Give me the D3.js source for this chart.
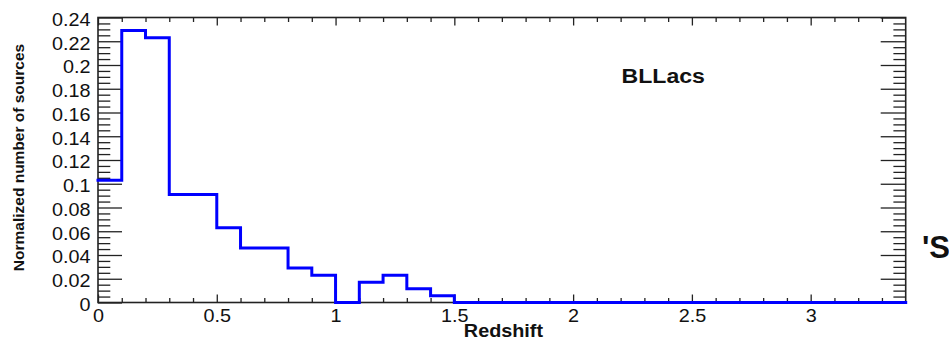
<!DOCTYPE html>
<html>
<head>
<meta charset="utf-8">
<script src="https://cdn.jsdelivr.net/npm/d3@7/dist/d3.min.js"></script>
<style>
  html, body { margin: 0; padding: 0; background: #fff; }
  svg { display: block; }
  text { font-family: "Liberation Sans", Arial, Helvetica, sans-serif; fill: #111; }
</style>
</head>
<body>
<svg id="chart" width="949" height="340"></svg>
<script>
// Redshift distribution of BL Lac sources (normalized histogram, bin width 0.1)
const binLowEdges = [0, 0.1, 0.2, 0.3, 0.4, 0.5, 0.6, 0.7, 0.8, 0.9, 1.0, 1.1, 1.2, 1.3, 1.4];
const binUpperLimit = 1.5;
const fractions = [0.103, 0.229, 0.223, 0.091, 0.091, 0.063, 0.046, 0.046, 0.029, 0.023, 0, 0.017, 0.023, 0.0115, 0.0057];
const xTickValues = [0, 0.5, 1, 1.5, 2, 2.5, 3];
const xTickLabels = ["0", "0.5", "1", "1.5", "2", "2.5", "3"];
const yTickValues = [0, 0.02, 0.04, 0.06, 0.08, 0.1, 0.12, 0.14, 0.16, 0.18, 0.2, 0.22, 0.24];
const yTickLabels = ["0", "0.02", "0.04", "0.06", "0.08", "0.1", "0.12", "0.14", "0.16", "0.18", "0.2", "0.22", "0.24"];
const xDomain = [0, 3.4];
const yDomain = [0, 0.24];
const seriesLabel = "BLLacs";
const xTitle = "Redshift";
const yTitle = "Normalized number of sources";

const svg = d3.select("#chart");
const frame = { left: 98, right: 905.7, top: 17.5, bottom: 302.5 };

const x = d3.scaleLinear().domain(xDomain).range([frame.left, frame.right]);
const y = d3.scaleLinear().domain(yDomain).range([frame.bottom, frame.top]);

const axisColor = "#222";
const stretch = "scale(1.1,1)";

// minor tick positions
const xMinor = d3.range(0, 34).map(i => i / 10).filter(v => !xTickValues.some(t => Math.abs(t - v) < 1e-9));
const yMinor = d3.range(0, 49).map(i => i * 0.005).filter(v => !yTickValues.some(t => Math.abs(t - v) < 1e-9));

function styleAxis(g) {
  g.select(".domain").remove();
  g.selectAll(".tick line").attr("stroke", axisColor).attr("stroke-width", 1.3);
}

// bottom axis: major with labels, minor without
svg.append("g").attr("transform", `translate(0,${frame.bottom})`)
  .call(d3.axisBottom(x).tickValues(xMinor).tickSize(-4.5).tickFormat(""))
  .call(styleAxis);
const xAxisG = svg.append("g").attr("transform", `translate(0,${frame.bottom})`)
  .call(d3.axisBottom(x).tickValues(xTickValues).tickSize(-8).tickPadding(7)
    .tickFormat((d, i) => xTickLabels[i]))
  .call(styleAxis);
xAxisG.selectAll(".tick text")
  .attr("font-size", 18).attr("fill", "#111").attr("transform", stretch)
  .style("font-family", '"Liberation Sans", Arial, sans-serif');

// top axis ticks
svg.append("g").attr("transform", `translate(0,${frame.top})`)
  .call(d3.axisTop(x).tickValues(xMinor).tickSize(-4.5).tickFormat(""))
  .call(styleAxis);
svg.append("g").attr("transform", `translate(0,${frame.top})`)
  .call(d3.axisTop(x).tickValues(xTickValues).tickSize(-8).tickFormat(""))
  .call(styleAxis);

// left axis
svg.append("g").attr("transform", `translate(${frame.left},0)`)
  .call(d3.axisLeft(y).tickValues(yMinor).tickSize(-12.3).tickFormat(""))
  .call(styleAxis);
const yAxisG = svg.append("g").attr("transform", `translate(${frame.left},0)`)
  .call(d3.axisLeft(y).tickValues(yTickValues).tickSize(-24).tickPadding(6.8)
    .tickFormat((d, i) => yTickLabels[i]))
  .call(styleAxis);
yAxisG.selectAll(".tick text")
  .attr("font-size", 18).attr("fill", "#111").attr("dy", "0.44em").attr("transform", stretch)
  .style("font-family", '"Liberation Sans", Arial, sans-serif');

// right axis ticks
svg.append("g").attr("transform", `translate(${frame.right},0)`)
  .call(d3.axisRight(y).tickValues(yMinor).tickSize(-12.3).tickFormat(""))
  .call(styleAxis);
svg.append("g").attr("transform", `translate(${frame.right},0)`)
  .call(d3.axisRight(y).tickValues(yTickValues).tickSize(-25).tickFormat(""))
  .call(styleAxis);

// frame
svg.append("rect")
  .attr("x", frame.left).attr("y", frame.top)
  .attr("width", frame.right - frame.left).attr("height", frame.bottom - frame.top)
  .attr("fill", "none").attr("stroke", axisColor).attr("stroke-width", 1.6);

// histogram outline
const pts = binLowEdges.map((e, i) => [e, fractions[i]]);
pts.push([binUpperLimit, 0]);
pts.push([xDomain[1], 0]);
const line = d3.line().x(d => x(d[0])).y(d => y(d[1])).curve(d3.curveStepAfter);
svg.append("path")
  .attr("d", line(pts))
  .attr("fill", "none").attr("stroke", "#0000ff").attr("stroke-width", 3)
  .attr("stroke-linejoin", "miter").attr("stroke-linecap", "square");

// labels
svg.append("text")
  .attr("transform", `translate(621.5,83) ${stretch}`)
  .attr("font-size", 21).attr("font-weight", "bold")
  .text(seriesLabel);

svg.append("text")
  .attr("transform", `translate(543,337) ${stretch}`)
  .attr("text-anchor", "end").attr("font-size", 18).attr("font-weight", "bold")
  .text(xTitle);

svg.append("text")
  .attr("transform", "translate(23.5,157.5) rotate(-90)")
  .attr("text-anchor", "middle").attr("font-size", 15.5).attr("font-weight", "bold")
  .text(yTitle);

svg.append("text")
  .attr("transform", "translate(922,258)")
  .attr("font-size", 31).attr("font-weight", "bold")
  .text("'S");
</script>
</body>
</html>
